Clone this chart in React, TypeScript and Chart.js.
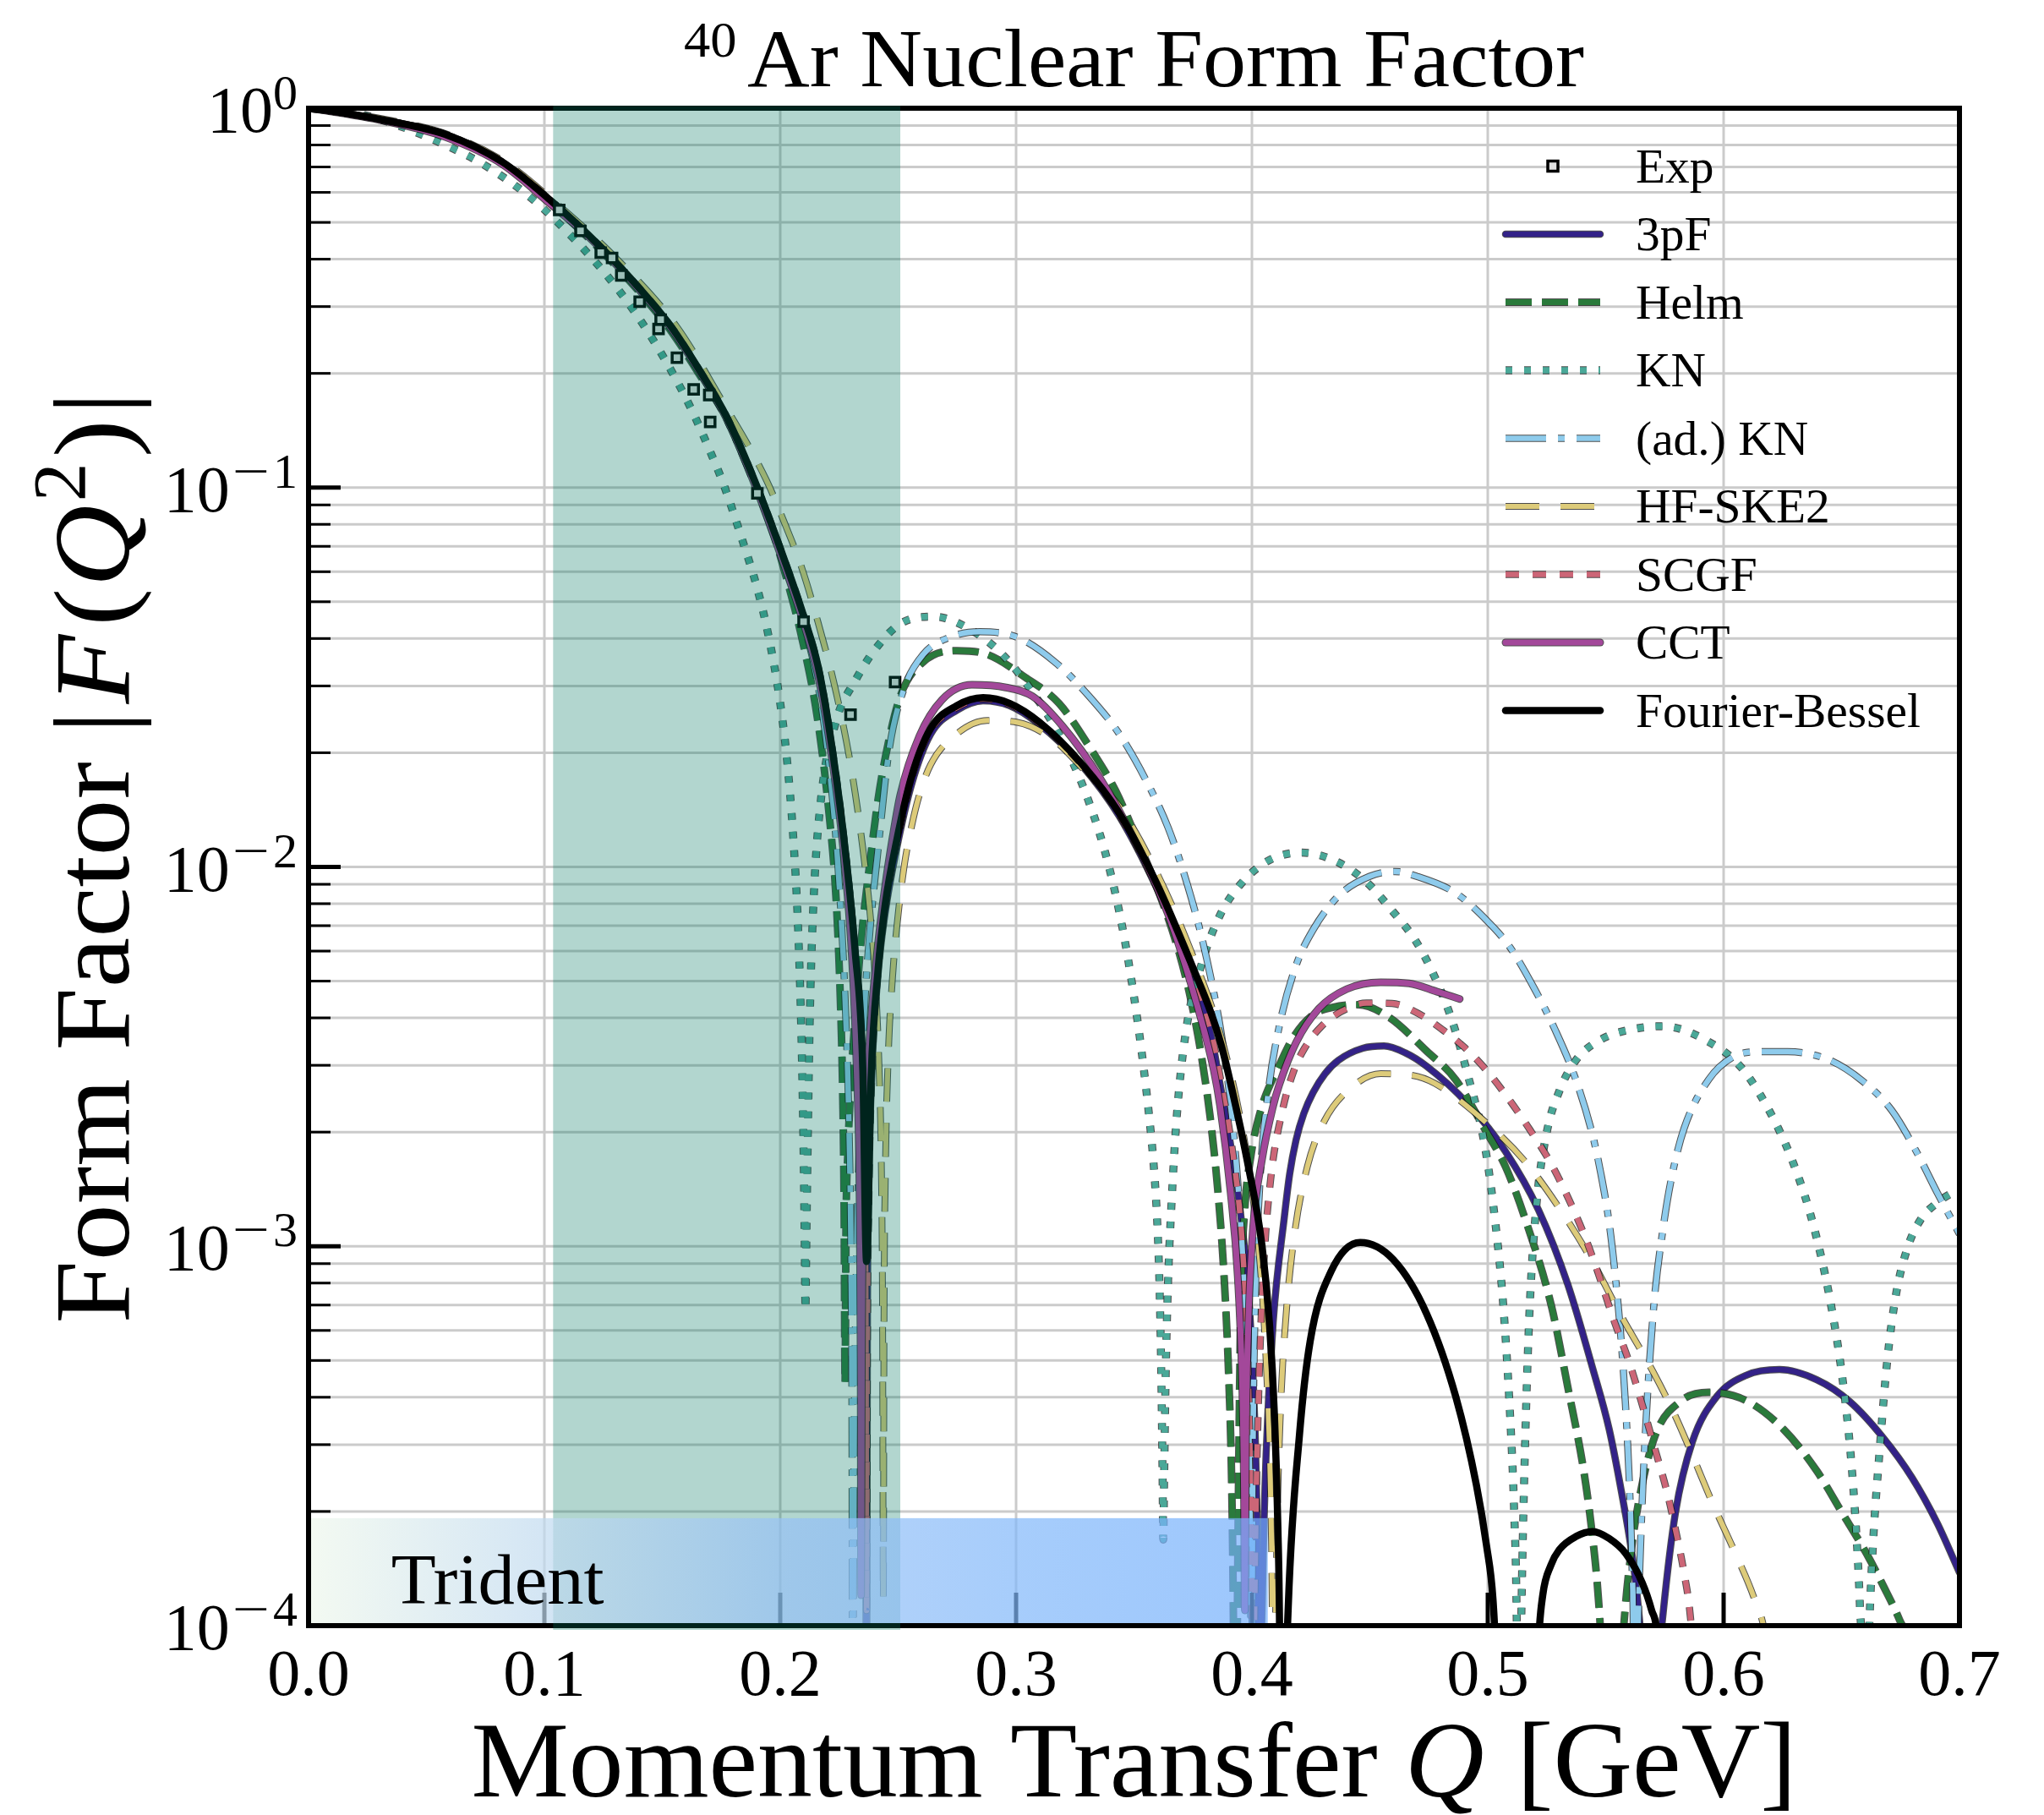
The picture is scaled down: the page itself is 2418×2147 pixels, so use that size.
import React, { useEffect, useRef } from "react";
import { Chart, registerables } from "chart.js";

Chart.register(...registerables);

const CANVAS_W = 2418;
const CANVAS_H = 2147;
const SERIF = '"Liberation Serif", "Times New Roman", serif';

// ---------------- data ----------------
// Experimental points: Q [GeV], |F|
const expQ = [0.1063, 0.1153, 0.1239, 0.1287, 0.1326, 0.1404, 0.1484, 0.1493, 0.1562, 0.1633, 0.1699, 0.1703, 0.1903, 0.2099, 0.2298, 0.2487];
const expF = [0.539, 0.475, 0.416, 0.403, 0.3625, 0.309, 0.262, 0.277, 0.22, 0.1815, 0.1754, 0.149, 0.0965, 0.0443, 0.0252, 0.0307];

// Model curves: Q [GeV] and log10|F| (values below -4 lie under the axis)
const pf3Q = [0, 0.01, 0.034, 0.058, 0.082, 0.103, 0.118, 0.13, 0.142, 0.154, 0.1655, 0.1774, 0.19, 0.2, 0.21, 0.216, 0.2205, 0.227, 0.2318, 0.235, 0.2358, 0.2362, 0.2364, 0.2365,
  0.2367, 0.2369, 0.2374, 0.2388, 0.2415, 0.2445, 0.2494, 0.2558, 0.2638, 0.2749, 0.286, 0.2973, 0.31, 0.3278, 0.3437, 0.3598, 0.3756, 0.3829, 0.3864, 0.3901, 0.3945, 0.3985, 0.4005, 0.4018, 0.4025, 0.4029, 0.4032,
  0.4036, 0.4045, 0.406, 0.409, 0.4138, 0.416, 0.4187, 0.422, 0.4259, 0.431, 0.4366, 0.447, 0.456, 0.465, 0.474, 0.4916, 0.5075, 0.5215, 0.5339, 0.5444, 0.5515, 0.5567, 0.5611, 0.5638, 0.5655, 0.5668, 0.5675,
  0.569, 0.5705, 0.5725, 0.5744, 0.5796, 0.5867, 0.5971, 0.6096, 0.6237, 0.6395, 0.6536, 0.6677, 0.6799, 0.6906, 0.7];
const pf3Log = [0, -0.008, -0.034, -0.069, -0.142, -0.247, -0.332, -0.407, -0.489, -0.58, -0.69, -0.818, -0.998, -1.163, -1.344, -1.475, -1.63, -1.93, -2.23, -2.56, -2.85, -3.3, -4.1, -5,
  -4.1, -3.3, -2.9, -2.55, -2.28, -2.12, -1.95, -1.78, -1.65, -1.587, -1.562, -1.575, -1.625, -1.732, -1.866, -2.058, -2.29, -2.45, -2.57, -2.7, -2.88, -3.12, -3.35, -3.6, -3.9, -4.3, -5,
  -4.3, -3.9, -3.55, -3.2, -2.92, -2.81, -2.72, -2.65, -2.595, -2.545, -2.51, -2.478, -2.472, -2.49, -2.525, -2.625, -2.75, -2.904, -3.1, -3.32, -3.483, -3.648, -3.81, -3.95, -4.1, -4.4, -5,
  -5, -4.4, -4.1, -3.964, -3.701, -3.516, -3.396, -3.34, -3.325, -3.352, -3.41, -3.505, -3.61, -3.73, -3.86];

const helmQ = [0, 0.01, 0.034, 0.058, 0.082, 0.103, 0.118, 0.13, 0.142, 0.154, 0.1655, 0.1774, 0.1865, 0.1953, 0.2014, 0.2093, 0.2158, 0.2205, 0.2238, 0.2255, 0.2265, 0.2271, 0.2275,
  0.2279, 0.2287, 0.2297, 0.2325, 0.235, 0.2382, 0.2413, 0.2446, 0.2509, 0.2606, 0.2749, 0.2878, 0.3038, 0.3182, 0.3326, 0.3421, 0.3518, 0.3613, 0.3686, 0.3734, 0.3781, 0.3823, 0.3855, 0.3882, 0.3902, 0.3914, 0.3921, 0.3926, 0.393,
  0.3934, 0.394, 0.3953, 0.397, 0.3996, 0.4038, 0.4116, 0.4176, 0.4259, 0.4343, 0.445, 0.4581, 0.474, 0.4864, 0.4986, 0.5075, 0.5163, 0.5269, 0.5339, 0.5409, 0.5445, 0.5468, 0.548, 0.549, 0.5496,
  0.5535, 0.5548, 0.5562, 0.5578, 0.5605, 0.5638, 0.5709, 0.5814, 0.5937, 0.6096, 0.6255, 0.6395, 0.6501, 0.6606, 0.6677, 0.6746, 0.679, 0.6815, 0.6835, 0.6845];
const helmLog = [0, -0.008, -0.035, -0.071, -0.145, -0.252, -0.338, -0.414, -0.497, -0.59, -0.7, -0.82, -0.95, -1.085, -1.211, -1.4, -1.609, -1.847, -2.096, -2.35, -2.6, -2.9, -3.36,
  -2.95, -2.75, -2.6, -2.33, -2.15, -1.98, -1.83, -1.71, -1.55, -1.46, -1.43, -1.44, -1.5, -1.569, -1.698, -1.798, -1.935, -2.08, -2.215, -2.33, -2.48, -2.66, -2.85, -3.08, -3.35, -3.62, -3.95, -4.4, -5,
  -4.4, -3.85, -3.15, -2.9, -2.76, -2.64, -2.523, -2.449, -2.39, -2.37, -2.363, -2.396, -2.485, -2.561, -2.69, -2.79, -2.936, -3.155, -3.37, -3.6, -3.77, -3.92, -4.05, -4.3, -5,
  -5, -4.4, -4.15, -3.99, -3.82, -3.68, -3.5, -3.41, -3.385, -3.407, -3.483, -3.592, -3.701, -3.81, -3.895, -3.985, -4.06, -4.2, -4.5, -5];

const knQ = [0, 0.02, 0.0376, 0.0591, 0.0735, 0.0925, 0.1033, 0.1248, 0.139, 0.151, 0.1619, 0.1714, 0.1762, 0.184, 0.19, 0.195, 0.1998, 0.2029, 0.2055, 0.2075, 0.209, 0.2099, 0.2104, 0.2107,
  0.211, 0.2116, 0.2126, 0.2142, 0.2173, 0.2237, 0.2318, 0.2398, 0.2509, 0.2652, 0.2797, 0.2942, 0.3069, 0.3197, 0.3308, 0.339, 0.3454, 0.3502, 0.3535, 0.3563, 0.3584, 0.3598, 0.3608, 0.3616, 0.3621, 0.3624,
  0.3628, 0.3634, 0.3644, 0.3658, 0.3681, 0.3721, 0.3792, 0.3864, 0.395, 0.4068, 0.4211, 0.4366, 0.4486, 0.4594, 0.4689, 0.476, 0.4846, 0.4916, 0.4986, 0.5025, 0.5065, 0.5095, 0.5112, 0.5122, 0.5127, 0.513,
  0.5135, 0.5143, 0.5155, 0.5175, 0.5205, 0.525, 0.5304, 0.5373, 0.548, 0.5638, 0.5744, 0.5919, 0.6078, 0.6219, 0.6307, 0.6377, 0.6448, 0.65, 0.6536, 0.6562, 0.6578, 0.6587, 0.6592,
  0.6603, 0.6615, 0.6632, 0.666, 0.6694, 0.673, 0.6782, 0.6835, 0.6906, 0.6967, 0.7];
const knLog = [0, -0.013, -0.0446, -0.1, -0.1457, -0.227, -0.2865, -0.428, -0.5435, -0.6615, -0.788, -0.921, -0.995, -1.14, -1.26, -1.39, -1.56, -1.72, -1.92, -2.15, -2.45, -2.75, -3.0, -3.167,
  -3.02, -2.75, -2.38, -2.08, -1.82, -1.615, -1.509, -1.43, -1.359, -1.34, -1.371, -1.44, -1.539, -1.668, -1.827, -1.99, -2.17, -2.35, -2.5, -2.65, -2.79, -2.93, -3.1, -3.35, -3.6, -3.773,
  -3.6, -3.35, -3.1, -2.9, -2.66, -2.43, -2.245, -2.128, -2.047, -1.984, -1.962, -1.988, -2.04, -2.115, -2.19, -2.27, -2.4, -2.55, -2.73, -2.9, -3.15, -3.45, -3.7, -3.95, -4.3, -5,
  -4.3, -3.95, -3.6, -3.2, -2.9, -2.7, -2.59, -2.51, -2.455, -2.425, -2.42, -2.455, -2.531, -2.673, -2.8, -2.936, -3.13, -3.33, -3.53, -3.75, -3.95, -4.2, -5,
  -4.35, -4.05, -3.8, -3.55, -3.3, -3.13, -3.0, -2.93, -2.885, -2.86, -2.85];

const adknQ = [0, 0.01, 0.034, 0.058, 0.082, 0.103, 0.118, 0.13, 0.142, 0.154, 0.1655, 0.1774, 0.19, 0.2, 0.21, 0.216, 0.2205, 0.2245, 0.2275, 0.2292, 0.2301, 0.2305, 0.2306, 0.2307,
  0.2309, 0.2313, 0.2322, 0.2337, 0.2355, 0.238, 0.2412, 0.2462, 0.2525, 0.2606, 0.2717, 0.2846, 0.3006, 0.3165, 0.3308, 0.3437, 0.3548, 0.3645, 0.3726, 0.3789, 0.3838, 0.387, 0.3905, 0.3936, 0.396, 0.3976, 0.3987, 0.3993, 0.3996, 0.3998,
  0.4, 0.4004, 0.4012, 0.4032, 0.4068, 0.4116, 0.4187, 0.4259, 0.4366, 0.4498, 0.4606, 0.47, 0.4864, 0.4986, 0.5092, 0.5197, 0.5286, 0.5373, 0.5444, 0.548, 0.5515, 0.5541, 0.5567, 0.5587, 0.5602, 0.5612, 0.5618, 0.5622,
  0.5628, 0.5636, 0.565, 0.5672, 0.5705, 0.5744, 0.5779, 0.5832, 0.5937, 0.6043, 0.6149, 0.6272, 0.6448, 0.6588, 0.6712, 0.6817, 0.6906, 0.7];
const adknLog = [0, -0.008, -0.034, -0.07, -0.142, -0.247, -0.332, -0.407, -0.49, -0.582, -0.693, -0.822, -1.005, -1.175, -1.36, -1.52, -1.72, -2.0, -2.35, -2.7, -3.1, -3.6, -4.1, -5,
  -4.2, -3.6, -3.1, -2.7, -2.4, -2.17, -1.97, -1.69, -1.53, -1.44, -1.395, -1.38, -1.395, -1.46, -1.549, -1.649, -1.768, -1.897, -2.046, -2.19, -2.33, -2.44, -2.6, -2.8, -3.02, -3.25, -3.5, -3.8, -4.2, -5,
  -4.2, -3.6, -3.2, -2.85, -2.6, -2.42, -2.26, -2.166, -2.077, -2.025, -2.012, -2.025, -2.069, -2.135, -2.21, -2.32, -2.43, -2.56, -2.706, -2.81, -2.94, -3.08, -3.26, -3.45, -3.65, -3.85, -4.1, -5,
  -4.4, -4.05, -3.75, -3.45, -3.15, -2.95, -2.82, -2.69, -2.56, -2.5, -2.487, -2.487, -2.509, -2.564, -2.641, -2.75, -2.859, -2.968];

const hfQ = [0, 0.01, 0.034, 0.058, 0.082, 0.103, 0.13, 0.1559, 0.1749, 0.1941, 0.2029, 0.2085, 0.2158, 0.2237, 0.2301, 0.235, 0.2382, 0.2405, 0.242, 0.2429, 0.2434, 0.2437,
  0.244, 0.2446, 0.2458, 0.2475, 0.2494, 0.2525, 0.2558, 0.259, 0.2638, 0.2749, 0.2878, 0.3006, 0.3165, 0.3294, 0.3437, 0.36, 0.3756, 0.387, 0.395, 0.4, 0.4035, 0.406, 0.4077, 0.4086, 0.409, 0.4092,
  0.4096, 0.4105, 0.412, 0.4145, 0.418, 0.4235, 0.4307, 0.4415, 0.4546, 0.4677, 0.4774, 0.4986, 0.5163, 0.5304, 0.5444, 0.5567, 0.5709, 0.5797, 0.5867, 0.5955, 0.6043, 0.6131, 0.6175, 0.62, 0.6215, 0.6222];
const hfLog = [0, -0.007, -0.031, -0.067, -0.137, -0.24, -0.393, -0.574, -0.767, -0.98, -1.11, -1.2, -1.35, -1.54, -1.74, -1.95, -2.13, -2.32, -2.55, -2.8, -3.2, -3.93,
  -3.2, -2.8, -2.5, -2.3, -2.16, -2.0, -1.89, -1.81, -1.73, -1.649, -1.614, -1.619, -1.668, -1.748, -1.84, -2.02, -2.245, -2.45, -2.66, -2.85, -3.05, -3.3, -3.6, -3.95, -4.4, -5,
  -4.3, -3.8, -3.45, -3.18, -2.97, -2.79, -2.67, -2.585, -2.545, -2.549, -2.57, -2.67, -2.78, -2.9, -3.04, -3.185, -3.34, -3.45, -3.55, -3.68, -3.8, -3.93, -4.02, -4.15, -4.4, -5];

const scgfQ = [0, 0.01, 0.034, 0.058, 0.082, 0.103, 0.118, 0.13, 0.142, 0.154, 0.1655, 0.1774, 0.19, 0.2, 0.21, 0.216, 0.2205, 0.227, 0.2318, 0.235, 0.236, 0.2364, 0.2366,
  0.2369, 0.2375, 0.2388, 0.2415, 0.2445, 0.2494, 0.2558, 0.2638, 0.2749, 0.286, 0.2973, 0.31, 0.3278, 0.3437, 0.3598, 0.3756, 0.3829, 0.3864, 0.392, 0.3955, 0.3975, 0.3988, 0.3996, 0.4, 0.4003, 0.4005,
  0.4008, 0.4015, 0.4028, 0.405, 0.408, 0.413, 0.4176, 0.4223, 0.4295, 0.4379, 0.4486, 0.4594, 0.4713, 0.481, 0.4898, 0.4986, 0.5075, 0.518, 0.5269, 0.5339, 0.5409, 0.5462, 0.5532, 0.5602, 0.5656, 0.5709, 0.5761, 0.5797, 0.5832, 0.5858, 0.5873, 0.5882, 0.5886];
const scgfLog = [0, -0.008, -0.034, -0.069, -0.141, -0.245, -0.33, -0.405, -0.487, -0.578, -0.688, -0.815, -0.995, -1.16, -1.34, -1.47, -1.625, -1.925, -2.235, -2.56, -2.9, -3.3, -3.96,
  -3.3, -2.9, -2.55, -2.27, -2.11, -1.94, -1.765, -1.64, -1.58, -1.557, -1.572, -1.622, -1.73, -1.862, -2.055, -2.29, -2.44, -2.55, -2.76, -2.96, -3.18, -3.43, -3.73, -4.03, -4.5, -5,
  -4.3, -3.8, -3.4, -3.05, -2.82, -2.64, -2.54, -2.478, -2.42, -2.381, -2.359, -2.36, -2.389, -2.43, -2.474, -2.53, -2.6, -2.694, -2.783, -2.87, -2.97, -3.06, -3.19, -3.31, -3.42, -3.535, -3.65, -3.75, -3.86, -3.97, -4.1, -4.35, -5];

const cctQ = [0, 0.01, 0.034, 0.058, 0.082, 0.103, 0.118, 0.13, 0.142, 0.154, 0.1655, 0.1774, 0.19, 0.2, 0.21, 0.216, 0.2205, 0.227, 0.2305, 0.2325, 0.2336, 0.2341, 0.2343,
  0.2346, 0.2352, 0.2365, 0.2385, 0.2415, 0.2445, 0.2477, 0.2509, 0.259, 0.2685, 0.2813, 0.2957, 0.3069, 0.3197, 0.3358, 0.3518, 0.3645, 0.3756, 0.3838, 0.3865, 0.391, 0.394, 0.3958, 0.3966, 0.397,
  0.3975, 0.3985, 0.4005, 0.4043, 0.409, 0.4116, 0.4187, 0.4283, 0.4402, 0.4546, 0.4666, 0.4785, 0.4881];
const cctLog = [0, -0.009, -0.036, -0.076, -0.147, -0.255, -0.335, -0.41, -0.492, -0.583, -0.693, -0.82, -1.005, -1.175, -1.36, -1.495, -1.655, -1.97, -2.25, -2.55, -2.85, -3.3, -3.92,
  -3.3, -2.9, -2.6, -2.4, -2.2, -2.05, -1.92, -1.81, -1.655, -1.56, -1.52, -1.527, -1.55, -1.629, -1.768, -1.948, -2.126, -2.34, -2.535, -2.63, -2.86, -3.08, -3.35, -3.62, -3.96,
  -3.5, -3.2, -2.95, -2.77, -2.63, -2.574, -2.463, -2.374, -2.322, -2.304, -2.307, -2.329, -2.348];

const fbQ = [0, 0.01, 0.034, 0.058, 0.082, 0.103, 0.118, 0.13, 0.142, 0.154, 0.1655, 0.1774, 0.19, 0.2, 0.21, 0.216, 0.2205, 0.227, 0.2318, 0.235, 0.2366,
  0.2385, 0.2415, 0.2445, 0.2494, 0.2558, 0.2638, 0.2749, 0.286, 0.2973, 0.31, 0.3278, 0.3437, 0.3598, 0.3756, 0.3829, 0.387, 0.3913, 0.3985, 0.4043, 0.4075, 0.4095, 0.411, 0.4118, 0.4125,
  0.4135, 0.4154, 0.4202, 0.4247, 0.4335, 0.4459, 0.4599, 0.474, 0.4864, 0.4952, 0.4995, 0.5022, 0.5035, 0.5045, 0.505,
  0.519, 0.5203, 0.5215, 0.5233, 0.5268, 0.5303, 0.5374, 0.5444, 0.5514, 0.5585, 0.5655, 0.5695, 0.5717, 0.5728, 0.5736, 0.574];
const fbLog = [0, -0.008, -0.034, -0.069, -0.141, -0.245, -0.33, -0.405, -0.487, -0.578, -0.688, -0.815, -0.995, -1.16, -1.34, -1.47, -1.625, -1.925, -2.225, -2.53, -3.04,
  -2.56, -2.27, -2.1, -1.93, -1.76, -1.635, -1.575, -1.554, -1.569, -1.619, -1.728, -1.858, -2.046, -2.275, -2.389, -2.47, -2.58, -2.79, -3.0, -3.21, -3.44, -3.74, -4.07, -5,
  -4.4, -3.95, -3.494, -3.25, -3.067, -2.99, -3.035, -3.177, -3.396, -3.63, -3.79, -3.93, -4.1, -4.4, -5,
  -5, -4.3, -4.05, -3.92, -3.84, -3.8, -3.765, -3.752, -3.77, -3.81, -3.887, -3.96, -4.02, -4.15, -4.5, -5];

// ---------------- axes / labels ----------------
const xTickValues = [0, 0.1, 0.2, 0.3, 0.4, 0.5, 0.6, 0.7];
const xTickLabels = ["0.0", "0.1", "0.2", "0.3", "0.4", "0.5", "0.6", "0.7"];
const yTickValues = [1, 0.1, 0.01, 0.001, 0.0001];
const yTickExponents = ["0", "1", "2", "3", "4"];
const yMinorMultipliers = [2, 3, 4, 5, 6, 7, 8, 9];
const legendLabels = ["Exp", "3pF", "Helm", "KN", "(ad.) KN", "HF-SKE2", "SCGF", "CCT", "Fourier-Bessel"];
const bandRange = [0.1037, 0.2509];
const tridentQ = [0, 0.4067];
const tridentF = [0.0001, 0.000192];

// ---------------- styles ----------------
const OUTLINE = "rgba(20,20,20,0.75)";
const SERIES = [
  { label: "3pF", q: pf3Q, lg: pf3Log, color: "#332288", width: 6.5, dash: [] as number[], order: 9, outline: true },
  { label: "Helm", q: helmQ, lg: helmLog, color: "#2a7a3b", width: 7, dash: [31, 12], order: 8, outline: true },
  { label: "KN", q: knQ, lg: knLog, color: "#4aa898", width: 7.5, dash: [8, 14], order: 7, outline: true },
  { label: "(ad.) KN", q: adknQ, lg: adknLog, color: "#8ecbec", width: 6.5, dash: [48, 14, 8, 14], order: 6, outline: true },
  { label: "HF-SKE2", q: hfQ, lg: hfLog, color: "#ddcb7a", width: 6, dash: [40, 25], order: 5, outline: true },
  { label: "SCGF", q: scgfQ, lg: scgfLog, color: "#cc6677", width: 6.5, dash: [16, 16], order: 4, outline: true },
  { label: "CCT", q: cctQ, lg: cctLog, color: "#a3489a", width: 7, dash: [] as number[], order: 3, outline: true },
  { label: "Fourier-Bessel", q: fbQ, lg: fbLog, color: "#000000", width: 8.5, dash: [] as number[], order: 2, outline: false },
];

type Run = { t: string; size: number; italic?: boolean; dy?: number; gap?: number; sx?: number };
function fontOf(r: Run) {
  return `${r.italic ? "italic " : ""}${r.size}px ${SERIF}`;
}
function natWidth(ctx: CanvasRenderingContext2D, runs: Run[]) {
  let w = 0;
  for (const r of runs) {
    ctx.font = fontOf(r);
    w += ctx.measureText(r.t).width * (r.sx || 1) + (r.gap || 0);
  }
  return w;
}
function drawRuns(ctx: CanvasRenderingContext2D, runs: Run[], x: number, y: number, align: string, target?: number, stretch = 1) {
  const nat = natWidth(ctx, runs);
  const s = target ? target / nat : stretch;
  const total = nat * s;
  const x0 = align === "left" ? x : align === "center" ? x - total / 2 : x - total;
  ctx.save();
  ctx.translate(x0, y);
  ctx.scale(s, 1);
  ctx.textAlign = "left";
  ctx.textBaseline = "alphabetic";
  ctx.fillStyle = "#000";
  let cx = 0;
  for (const r of runs) {
    ctx.font = fontOf(r);
    const w = ctx.measureText(r.t).width;
    ctx.save();
    ctx.translate(cx, r.dy || 0);
    ctx.scale(r.sx || 1, 1);
    ctx.fillText(r.t, 0, 0);
    ctx.restore();
    cx += w * (r.sx || 1) + (r.gap || 0);
  }
  ctx.restore();
  return total;
}

function gridYValues() {
  const vals: number[] = [];
  for (const d of yTickValues) {
    vals.push(d);
    if (d < 1) for (const m of yMinorMultipliers) vals.push(d * m);
  }
  return vals;
}

const decorPlugin = {
  id: "decor",
  beforeDatasetsDraw(chart: any) {
    const { ctx, chartArea: a, scales } = chart;
    const xs = scales.x;
    const ys = scales.y;
    ctx.save();
    ctx.beginPath();
    ctx.rect(a.left, a.top, a.right - a.left, a.bottom - a.top);
    ctx.clip();
    ctx.strokeStyle = "#cbcbcb";
    ctx.lineWidth = 3;
    ctx.setLineDash([]);
    ctx.beginPath();
    for (const q of xTickValues) {
      const px = xs.getPixelForValue(q);
      ctx.moveTo(px, a.top);
      ctx.lineTo(px, a.bottom);
    }
    for (const v of gridYValues()) {
      const py = ys.getPixelForValue(v);
      ctx.moveTo(a.left, py);
      ctx.lineTo(a.right, py);
    }
    ctx.stroke();
    ctx.restore();
  },
  afterDatasetsDraw(chart: any) {
    const { ctx, chartArea: a, scales } = chart;
    const xs = scales.x;
    const ys = scales.y;
    ctx.save();
    ctx.setLineDash([]);
    ctx.lineCap = "butt";
    ctx.strokeStyle = "#000";
    // ticks
    for (const d of yTickValues) {
      const py = ys.getPixelForValue(d);
      ctx.lineWidth = 5;
      ctx.beginPath();
      ctx.moveTo(a.left, py);
      ctx.lineTo(a.left + 38, py);
      ctx.stroke();
      if (d < 1) {
        ctx.lineWidth = 3;
        for (const m of yMinorMultipliers) {
          const pm = ys.getPixelForValue(d * m);
          ctx.beginPath();
          ctx.moveTo(a.left, pm);
          ctx.lineTo(a.left + 26, pm);
          ctx.stroke();
        }
      }
    }
    ctx.lineWidth = 5;
    for (const q of xTickValues) {
      const px = xs.getPixelForValue(q);
      ctx.beginPath();
      ctx.moveTo(px, a.bottom);
      ctx.lineTo(px, a.bottom - 39);
      ctx.stroke();
    }
    // frame
    ctx.lineWidth = 6;
    ctx.strokeRect(a.left, a.top, a.right - a.left, a.bottom - a.top);

    // shaded band
    const bx1 = xs.getPixelForValue(bandRange[0]);
    const bx2 = xs.getPixelForValue(bandRange[1]);
    ctx.fillStyle = "rgba(0,120,95,0.3)";
    ctx.fillRect(bx1, a.top - 3, bx2 - bx1, a.bottom - a.top + 8);

    // trident gradient box
    const tx1 = xs.getPixelForValue(tridentQ[0]) + 3;
    const tx2 = xs.getPixelForValue(tridentQ[1]);
    const ty1 = ys.getPixelForValue(tridentF[1]);
    const ty2 = a.bottom - 3;
    const g = ctx.createLinearGradient(tx1, 0, tx2, 0);
    g.addColorStop(0, "rgba(238,247,236,0.7)");
    g.addColorStop(0.25, "rgba(192,218,240,0.7)");
    g.addColorStop(0.5, "rgba(150,193,246,0.7)");
    g.addColorStop(0.75, "rgba(128,183,250,0.7)");
    g.addColorStop(1, "rgba(115,175,252,0.7)");
    ctx.fillStyle = g;
    ctx.fillRect(tx1, ty1, tx2 - tx1, ty2 - ty1);
    drawRuns(ctx, [{ t: "Trident", size: 84 }], xs.getPixelForValue(0.035), a.bottom - 26, "left", 252);

    // x tick labels
    xTickValues.forEach((q, i) => {
      drawRuns(ctx, [{ t: xTickLabels[i], size: 78 }], xs.getPixelForValue(q), a.bottom + 82, "center");
    });
    // y tick labels
    yTickValues.forEach((d, i) => {
      const py = ys.getPixelForValue(d);
      const e = yTickExponents[i];
      const runs: Run[] =
        e === "0"
          ? [{ t: "10", size: 78 }, { t: "0", size: 58, dy: -27 }]
          : [
              { t: "10", size: 78, gap: 3 },
              { t: "\u2212", size: 58, dy: -28, sx: 1.35, gap: 4 },
              { t: e, size: 58, dy: -28 },
            ];
      drawRuns(ctx, runs, a.left - 13, py + 28, "right");
    });

    // title
    drawRuns(
      ctx,
      [
        { t: "40", size: 60, dy: -35, gap: 12 },
        { t: "Ar Nuclear Form Factor", size: 98 },
      ],
      (a.left + a.right) / 2,
      102,
      "center",
      1065
    );
    // x title
    drawRuns(
      ctx,
      [
        { t: "Momentum Transfer ", size: 126 },
        { t: "Q", size: 126, italic: true, gap: 6 },
        { t: " [GeV]", size: 126 },
      ],
      (a.left + a.right) / 2,
      2125,
      "center",
      1568
    );
    // y title (rotated)
    ctx.save();
    ctx.translate(152, (a.top + a.bottom) / 2 - 11);
    ctx.rotate(-Math.PI / 2);
    drawRuns(
      ctx,
      [
        { t: "Form Factor ", size: 128 },
        { t: "|", size: 128, gap: 8 },
        { t: "F", size: 128, italic: true, gap: 10 },
        { t: "(", size: 128, gap: 2 },
        { t: "Q", size: 128, italic: true, gap: 4 },
        { t: "2", size: 88, dy: -52, gap: 6 },
        { t: ")", size: 128, gap: 6 },
        { t: "|", size: 128 },
      ],
      0,
      0,
      "center",
      1102
    );
    ctx.restore();

    // legend
    const lx1 = 1781;
    const lx2 = 1893;
    const textX = 1935;
    ctx.font = `58px ${SERIF}`;
    const legStretch = 337 / ctx.measureText("Fourier-Bessel").width;
    legendLabels.forEach((lab, i) => {
      const yy = 196.5 + i * 80.5;
      if (i === 0) {
        ctx.setLineDash([]);
        ctx.fillStyle = "#e0e0e0";
        ctx.fillRect(1837 - 6, yy - 6, 12, 12);
        ctx.lineWidth = 3.5;
        ctx.strokeStyle = "#000";
        ctx.strokeRect(1837 - 6, yy - 6, 12, 12);
      } else {
        const s = SERIES.find((z) => z.label === lab)!;
        const solid = s.dash.length === 0;
        ctx.lineCap = solid ? "round" : "butt";
        ctx.setLineDash(s.dash);
        if (s.outline) {
          ctx.strokeStyle = OUTLINE;
          ctx.lineWidth = s.width + 2;
          ctx.beginPath();
          ctx.moveTo(lx1, yy);
          ctx.lineTo(lx2, yy);
          ctx.stroke();
        }
        ctx.strokeStyle = s.color;
        ctx.lineWidth = s.width;
        ctx.beginPath();
        ctx.moveTo(lx1, yy);
        ctx.lineTo(lx2, yy);
        ctx.stroke();
      }
      ctx.setLineDash([]);
      drawRuns(ctx, [{ t: lab, size: 58 }], textX, yy + 19, "left", undefined, legStretch);
    });
    ctx.restore();
  },
};

function buildDatasets() {
  const ds: any[] = [];
  for (const s of SERIES) {
    const data = s.q.map((q, i) => ({ x: q, y: Math.pow(10, s.lg[i]) }));
    const solid = s.dash.length === 0;
    const common = {
      pointRadius: 0,
      fill: false,
      cubicInterpolationMode: "monotone",
      clip: 0,
      borderJoinStyle: "round",
      borderCapStyle: solid ? "round" : "butt",
      borderDash: s.dash,
    };
    if (s.outline) {
      ds.push({ ...common, label: s.label + " outline", data, borderColor: OUTLINE, borderWidth: s.width + 2, order: s.order + 0.5 });
    }
    ds.push({ ...common, label: s.label, data, borderColor: s.color, borderWidth: s.width, order: s.order });
  }
  ds.push({
    label: "Exp",
    data: expQ.map((q, i) => ({ x: q, y: expF[i] })),
    showLine: false,
    pointStyle: "rect",
    pointRadius: 8,
    pointBorderWidth: 3.5,
    pointBorderColor: "#000",
    pointBackgroundColor: "#e0e0e0",
    order: 0,
    clip: 0,
  });
  return ds;
}

export default function App() {
  const ref = useRef<HTMLCanvasElement | null>(null);
  useEffect(() => {
    document.body.style.margin = "0";
    document.body.style.overflow = "hidden";
    const canvas = ref.current!;
    const chart = new Chart(canvas, {
      type: "line",
      data: { datasets: buildDatasets() },
      options: {
        animation: false,
        responsive: false,
        maintainAspectRatio: false,
        devicePixelRatio: 1,
        events: [],
        layout: { padding: { left: 0, top: 128, right: 100, bottom: 0 } },
        plugins: { legend: { display: false }, title: { display: false }, tooltip: { enabled: false } },
        scales: {
          x: {
            type: "linear",
            min: 0,
            max: 0.7,
            grid: { display: false },
            border: { display: false },
            ticks: { display: false },
            afterFit: (s: any) => {
              s.height = 224;
            },
          },
          y: {
            type: "logarithmic",
            min: 0.0001,
            max: 1,
            grid: { display: false },
            border: { display: false },
            ticks: { display: false },
            afterFit: (s: any) => {
              s.width = 365;
            },
          },
        },
      } as any,
      plugins: [decorPlugin],
    });
    return () => chart.destroy();
  }, []);
  return (
    <div style={{ position: "absolute", left: 0, top: 0, width: CANVAS_W, height: CANVAS_H, background: "#fff" }}>
      <canvas ref={ref} width={CANVAS_W} height={CANVAS_H} style={{ display: "block", width: CANVAS_W, height: CANVAS_H }} />
    </div>
  );
}
